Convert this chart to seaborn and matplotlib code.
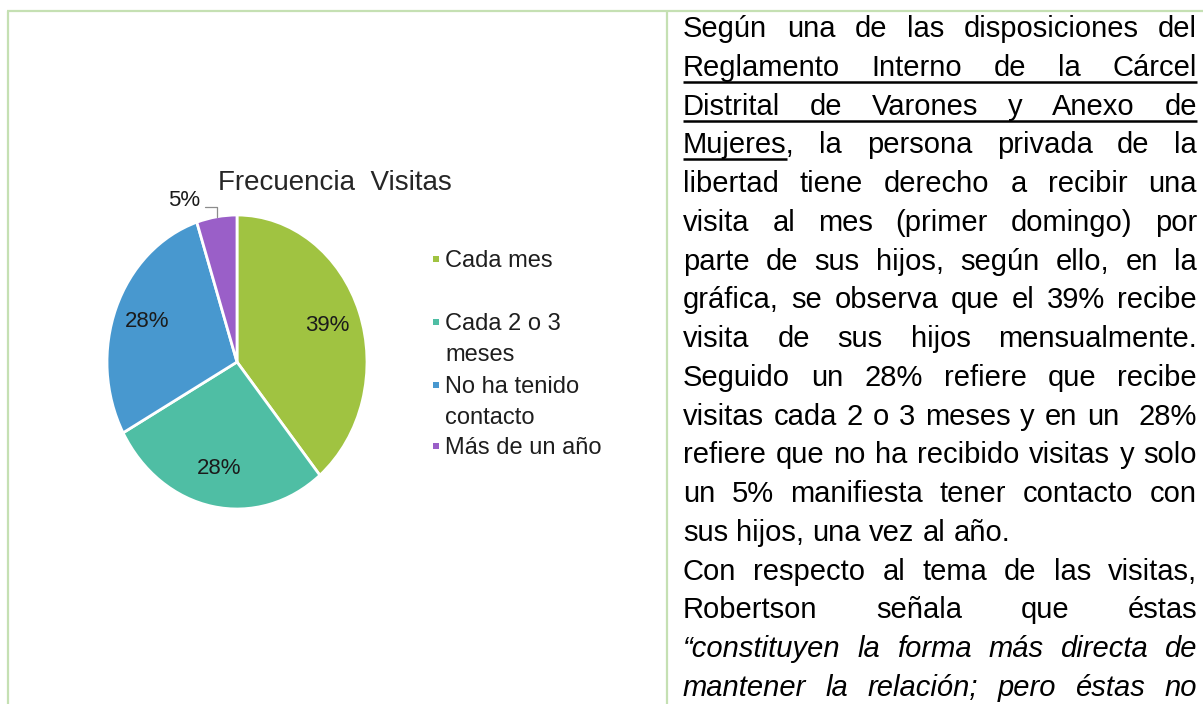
import matplotlib
matplotlib.use("Agg")
import matplotlib.pyplot as plt
import seaborn as sns
import numpy as np

# ---------------- data ----------------
categories = ["Cada mes", "Cada 2 o 3\nmeses", "No ha tenido\ncontacto", "Más de un año"]
percentages = [39, 28, 28, 5]
slice_colors = ["#A0C341", "#4FBEA4", "#4898CF", "#9A5FC8"]
chart_title = "Frecuencia  Visitas"

body_lines = [
    "Según una de las disposiciones del",
    "Reglamento Interno de la Cárcel",
    "Distrital de Varones y Anexo de",
    "Mujeres, la persona privada de la",
    "libertad tiene derecho a recibir una",
    "visita al mes (primer domingo) por",
    "parte de sus hijos, según ello, en la",
    "gráfica, se observa que el 39% recibe",
    "visita de sus hijos mensualmente.",
    "Seguido un 28% refiere que recibe",
    "visitas cada 2 o 3 meses y en un  28%",
    "refiere que no ha recibido visitas y solo",
    "un 5% manifiesta tener contacto con",
    "sus hijos, una vez al año.",
    "Con respecto al tema de las visitas,",
    "Robertson señala que éstas",
    "\u201cconstituyen la forma más directa de",
    "mantener la relación; pero éstas no",
]
left_aligned_lines = [13]
underline_full_lines = [1, 2]
underline_word = {3: "Mujeres"}
italic_lines = [16, 17]

# ---------------- style ----------------
sns.set_theme(style="white")
plt.rcParams["font.family"] = ["Liberation Sans", "DejaVu Sans"]

W, H = 1203, 704
fig = plt.figure(figsize=(W / 100, H / 100), dpi=100)
fig.patch.set_facecolor("white")

bg = fig.add_axes([0, 0, 1, 1])
bg.set_xlim(0, W)
bg.set_ylim(H, 0)
bg.axis("off")

# table borders
border = "#C5E0B3"
bw = 1.6
bg.plot([7, W], [11, 11], color=border, lw=bw, solid_capstyle="butt")
bg.plot([8, 8], [11, H], color=border, lw=bw, solid_capstyle="butt")
bg.plot([666.5, 666.5], [11, H], color=border, lw=bw, solid_capstyle="butt")

# ---------------- pie chart ----------------
cx, cy, rx, ry = 237, 362, 130, 147
pax = fig.add_axes([(cx - rx) / W, (H - (cy + ry)) / H, 2 * rx / W, 2 * ry / H])
wedges, texts, autotexts = pax.pie(
    percentages,
    colors=slice_colors,
    startangle=90,
    counterclock=False,
    autopct=lambda p: f"{p:.0f}%",
    pctdistance=0.74,
    wedgeprops=dict(edgecolor="white", linewidth=2),
    textprops=dict(fontsize=16, color="#1b1b1b"),
)
pax.set_aspect("auto")
pax.set_xlim(-1, 1)
pax.set_ylim(-1, 1)
pax.axis("off")

# small slice: label outside with leader line
w_small = wedges[-1]
mid = np.deg2rad((w_small.theta1 + w_small.theta2) / 2)
ex, ey = np.cos(mid), np.sin(mid)
elbow = (ex, ey + 0.068)
hend = (ex - 0.09, ey + 0.068)
pax.plot([hend[0], elbow[0], ex], [hend[1], elbow[1], ey], color="#8c8c8c", lw=0.9, clip_on=False)
at = autotexts[-1]
at.set_position((hend[0] - 0.035, hend[1] + 0.04))
at.set_ha("right")
at.set_va("center")
at.set_clip_on(False)

# title
bg.text(218, 190, chart_title, fontsize=20, ha="left", va="baseline", color="#262626")

# legend (manual, marker aligned with first line)
leg_baselines = [267, 330, 393, 454]
leg_line_gap = 31
for lab, col, yb in zip(categories, slice_colors, leg_baselines):
    bg.scatter([436], [yb - 8], marker="s", s=24, color=col, linewidths=0)
    for j, part in enumerate(lab.split("\n")):
        bg.text(445, yb + j * leg_line_gap, part, fontsize=17, ha="left",
                va="baseline", color="#1e1e1e")

# ---------------- body text (justified) ----------------
renderer = fig.canvas.get_renderer()
fs_body = 21
x_left, x_right = 683, 1197
base0, lstep = 37, 38.76


def text_width(s, **kw):
    if s == "":
        return 0.0
    t = bg.text(0, 0, s, fontsize=fs_body, **kw)
    w = t.get_window_extent(renderer).width
    t.remove()
    return w


for i, line in enumerate(body_lines):
    yb = base0 + i * lstep
    style = "italic" if i in italic_lines else "normal"
    words = line.split(" ")
    widths = [text_width(wd, style=style) for wd in words]
    if i in left_aligned_lines or len(words) == 1:
        gap = text_width("a b", style=style) - text_width("ab", style=style)
    else:
        gap = (x_right - x_left - sum(widths)) / (len(words) - 1)
    x = x_left
    for wd, wdt in zip(words, widths):
        if wd:
            bg.text(x, yb, wd, fontsize=fs_body, style=style, ha="left",
                    va="baseline", color="#000000")
            if i in underline_word and wd.startswith(underline_word[i]):
                uw = text_width(underline_word[i], style=style)
                bg.plot([x, x + uw], [yb + 6, yb + 6], color="black", lw=1.8,
                        solid_capstyle="butt")
        x += wdt + gap
    if i in underline_full_lines:
        bg.plot([x_left, x_right], [yb + 6, yb + 6], color="black", lw=1.8,
                solid_capstyle="butt")

fig.savefig("out.png", dpi=100, facecolor="white")
